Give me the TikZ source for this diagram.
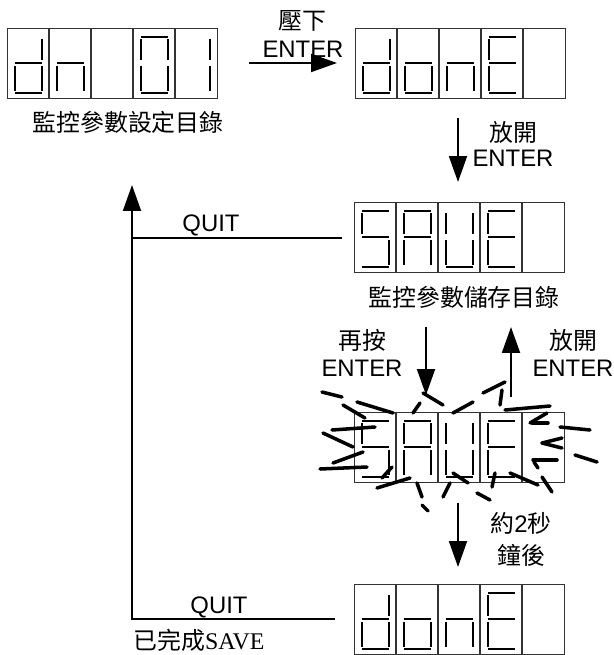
\documentclass[tikz,border=0pt]{standalone}
\usepackage{fontspec}
\setmainfont{Liberation Serif}
\setsansfont{Liberation Sans}
\newfontfamily\cjk{Noto Sans CJK TC}
\usetikzlibrary{arrows.meta,calc}

% seven segments of one cell (cell is 42 x 70)
\def\sega{(8,9) -- (35,9)}
\def\segb{(35,11) -- (35,32)}
\def\segc{(35,38) -- (35,63)}
\def\segd{(8,65) -- (35,65)}
\def\sege{(8,38) -- (8,63)}
\def\segf{(8,11) -- (8,32)}
\def\segg{(8,35) -- (35,35)}
\def\segx{}

\tikzset{
  lcdbox/.style={draw=black!80, line width=0.6pt, minimum width=4.2cm, minimum height=1.4cm, inner sep=0pt},
  lcdframe/.style={draw=black!80, line width=0.6pt},
  seg/.style={line width=1.5pt},
  ray/.style={line width=2pt, line cap=round},
  arr/.style={line width=1.1pt, -{Triangle[length=0.52cm,width=0.36cm]}},
  lbl/.style={font=\sffamily\fontsize{13.6}{16}\selectfont, inner sep=0pt},
  zh/.style={font=\cjk\fontsize{13.6}{16}\selectfont, inner sep=0pt},
}

\newcommand\lcd[3]{%
  \node[lcdbox, anchor=north west] (#1) at (#2) {};
  \foreach \k in {1,...,4}
    \draw[lcdframe] ($(#1.north west)+(42*\k,0)$) -- ++(0,70);
  \foreach \segs [count=\i from 0] in {#3}
    \foreach \s in \segs
      \draw[seg, shift={($(#1.north west)+(42*\i,0)$)}] \csname seg\s\endcsname;
}

\begin{document}
\begin{tikzpicture}[x=0.02cm, y=-0.02cm]
  \useasboundingbox (0,0) rectangle (614,655);

  % displays
  \lcd{dn}{7,28}{{b,c,d,e,g},{c,e,g},{x},{a,b,c,d,e,f},{b,c}}
  \lcd{done}{355,28}{{b,c,d,e,g},{c,d,e,g},{c,e,g},{a,d,e,f,g},{x}}
  \lcd{save}{354,202}{{a,c,d,f,g},{a,b,c,e,f,g},{b,c,d,e,f},{a,d,e,f,g},{x}}
  \lcd{flash}{354,412}{{a,c,d,f,g},{a,b,c,e,f,g},{b,c,d,e,f},{a,d,e,f,g},{x}}
  \lcd{fin}{354,584}{{b,c,d,e,g},{c,d,e,g},{c,e,g},{a,d,e,f,g},{x}}

  % flashing
  \foreach \ax/\ay/\bx/\by in {322/392/342/397, 343/405/365/418, 357/402/393/413,
      332/430/375/427, 323/433/353/447, 333/463/363/452, 320/469/367/467,
      382/478/392/467, 377/488/410/478, 413/413/420/403, 423/393/443/405,
      417/483/422/497, 443/497/450/483, 422/505/428/511, 453/413/473/402,
      483/393/505/382, 502/390/500/405, 505/410/550/406, 530/423/547/413,
      532/423/548/423, 560/427/590/430, 542/443/562/438, 542/443/562/448,
      575/455/597/462, 533/460/557/460, 534/462/538/468, 542/477/552/492,
      510/473/538/485, 495/473/492/487, 453/473/468/483, 477/493/490/500}
    \draw[ray] (\ax,\ay) -- (\bx,\by);

  % labels
  \node[zh] (t1) at (128,122) {監控參數設定目錄};
  \node[zh] (t2) at (464,297) {監控參數儲存目錄};
  \node[zh] (p1) at (302,21) {壓下};
  \node[lbl] (p2) at (303,49) {ENTER};
  \node[zh] (r1) at (513,132) {放開};
  \node[lbl] (r2) at (513,158) {ENTER};
  \node[zh] (a1) at (362,340) {再按};
  \node[lbl] (a2) at (362,368) {ENTER};
  \node[zh] (b1) at (573,340) {放開};
  \node[lbl] (b2) at (573,368) {ENTER};
  \node[zh] (w1) at (521,523) {約\sffamily 2\cjk 秒};
  \node[zh] (w2) at (521,555) {鐘後};
  \node[lbl] (q1) at (211,225) {QUIT};
  \node[lbl] (q2) at (219,607) {QUIT};
  \node[zh, anchor=west] (ok) at (133,640) {已完成\rmfamily SAVE};

  % arrows
  \coordinate (h1) at (249,63);  \coordinate (h2) at (337,63);
  \coordinate (v1) at (458,118); \coordinate (v2) at (458,182);
  \coordinate (v3) at (426,327); \coordinate (v4) at (426,395);
  \coordinate (u1) at (511,397); \coordinate (u2) at (511,327);
  \coordinate (v5) at (458,503); \coordinate (v6) at (458,567);
  \coordinate (l1) at (335,619); \coordinate (l2) at (132,619);
  \coordinate (l3) at (132,185); \coordinate (m1) at (342,238);
  \coordinate (m2) at (132,238);

  \draw[arr] (h1) -- (h2);
  \draw[arr] (v1) -- (v2);
  \draw[arr] (v3) -- (v4);
  \draw[arr] (u1) -- (u2);
  \draw[arr] (v5) -- (v6);
  \draw[arr] (l1) -- (l2) -- (l3);
  \draw[line width=1.1pt] (m1) -- (m2);
\end{tikzpicture}
\end{document}
